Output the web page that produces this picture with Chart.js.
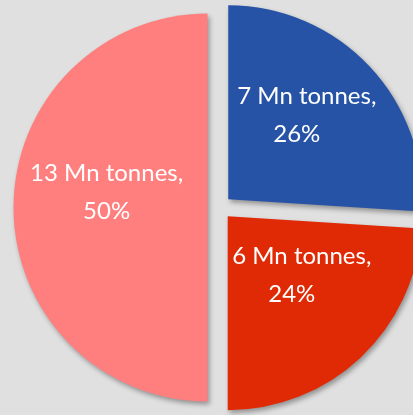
<!DOCTYPE html>
<html>
<head>
<meta charset="utf-8">
<script src="https://cdn.jsdelivr.net/npm/chart.js@4/dist/chart.umd.min.js"></script>
<style>
  html, body { margin: 0; padding: 0; background: #e0e0e0; }
  #wrap { width: 413px; height: 415px; }
</style>
</head>
<body>
<div id="wrap"><canvas id="pieChart"></canvas></div>
<script>
// Data
const categories = ['Blue', 'Red', 'Pink'];
const tonnes = [7, 6, 13];          // Mn tonnes
const shares = [26, 24, 50];        // percent of total
const colors = ['#2653a6', '#e02a05', '#ff7f7f'];

const EXPLODE = 12; // px each slice is pulled out along its middle angle

// grey backdrop like the original slide
const background = {
    id: 'background',
    beforeDraw(chart) {
        const ctx = chart.ctx;
        ctx.save();
        ctx.fillStyle = '#e0e0e0';
        ctx.fillRect(0, 0, chart.width, chart.height);
        ctx.restore();
    }
};

// draw the slices pulled apart, with a soft drop shadow
// (built-in offset also grows a half-circle slice, so do the shift here)
const explodedSlices = {
    id: 'explodedSlices',
    beforeDatasetDraw(chart, args) {
        const ctx = chart.ctx;
        ctx.save();
        ctx.shadowColor = 'rgba(0,0,0,0.35)';
        ctx.shadowBlur = 5;
        ctx.shadowOffsetX = 2;
        ctx.shadowOffsetY = 3;
        args.meta.data.forEach(arc => {
            const mid = (arc.startAngle + arc.endAngle) / 2;
            ctx.save();
            ctx.translate(Math.cos(mid) * EXPLODE, Math.sin(mid) * EXPLODE);
            arc.draw(ctx);
            ctx.restore();
        });
        ctx.restore();
        return false;
    }
};

// two-line white labels inside each slice
const sliceLabels = {
    id: 'sliceLabels',
    afterDatasetsDraw(chart) {
        const ctx = chart.ctx;
        const meta = chart.getDatasetMeta(0);
        ctx.save();
        ctx.fillStyle = '#ffffff';
        ctx.font = '24px Lato';
        ctx.textAlign = 'center';
        ctx.textBaseline = 'middle';
        meta.data.forEach((arc, i) => {
            const p = arc.getProps(['x', 'y', 'startAngle', 'endAngle', 'outerRadius'], true);
            const mid = (p.startAngle + p.endAngle) / 2;
            const r = p.outerRadius * 0.52 + EXPLODE;
            const cx = p.x + Math.cos(mid) * r;
            const cy = p.y + Math.sin(mid) * r - 15;
            const nudge = i < 2 ? 5 : 0;
            ctx.fillText(tonnes[i] + ' Mn tonnes,', cx + nudge, cy - 19);
            ctx.fillText(shares[i] + '%', cx - nudge, cy + 19);
        });
        ctx.restore();
    }
};

const pieChart = new Chart(document.getElementById('pieChart'), {
    type: 'pie',
    data: {
        labels: categories,
        datasets: [{
            data: shares,
            backgroundColor: colors,
            borderWidth: 0
        }]
    },
    options: {
        responsive: true,
        maintainAspectRatio: false,
        animation: false,
        radius: 194,
        layout: { padding: { left: 26, right: 0, top: 0, bottom: 0 } },
        events: [],
        plugins: {
            legend: { display: false },
            tooltip: { enabled: false }
        }
    },
    plugins: [background, explodedSlices, sliceLabels]
});
</script>
</body>
</html>
